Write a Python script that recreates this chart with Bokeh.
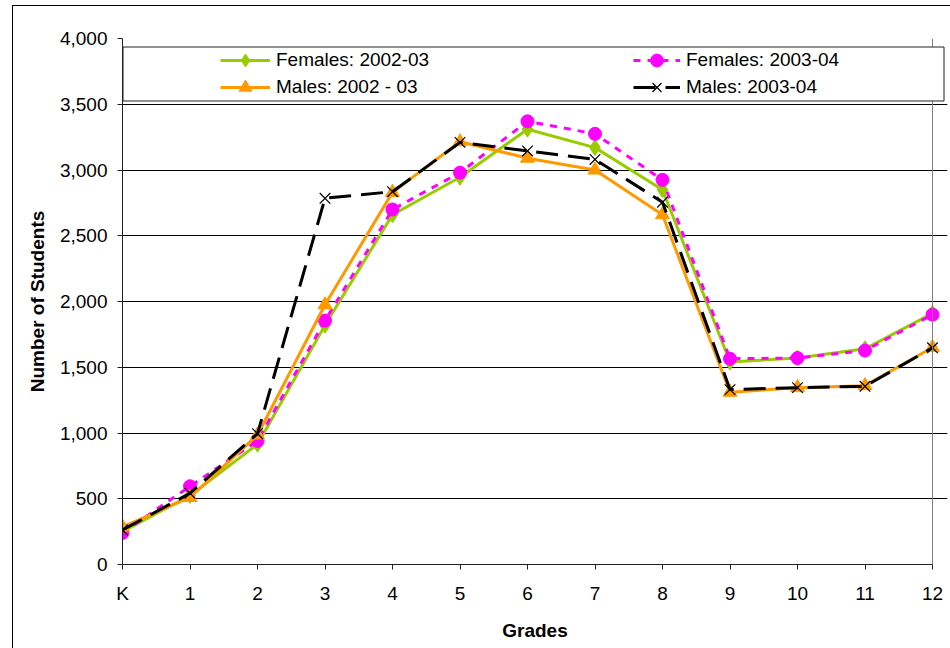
from bokeh.plotting import figure
from bokeh.models import (Legend, LegendItem, FixedTicker, Range1d, BoxAnnotation,
                          NumeralTickFormatter, Span, Grid)
from bokeh.embed import file_html
from bokeh.resources import INLINE

grades = ["K", "1", "2", "3", "4", "5", "6", "7", "8", "9", "10", "11", "12"]
females_0203 = [250, 525, 915, 1820, 2660, 2945, 3310, 3170, 2850, 1540, 1570, 1640, 1910]
females_0304 = [240, 595, 940, 1855, 2700, 2980, 3370, 3275, 2925, 1565, 1570, 1627, 1900]
males_0203 = [285, 510, 985, 1975, 2830, 3215, 3090, 3000, 2660, 1310, 1345, 1360, 1650]
males_0304 = [262, 542, 995, 2785, 2835, 3210, 3145, 3080, 2755, 1330, 1345, 1355, 1648]
y_ticks = [0, 500, 1000, 1500, 2000, 2500, 3000, 3500, 4000]

x = list(range(len(grades)))
x_last = len(grades) - 1
FONT = "Liberation Sans"

# frame is a little wider than the last category so that end markers are not clipped;
# the canvas runs just past the window so only its left and top edges show
p = figure(width=940, height=645, output_backend="svg", toolbar_location=None,
           x_range=Range1d(0, x_last * 825 / 810), y_range=Range1d(y_ticks[0], y_ticks[-1]),
           min_border_left=109, min_border_right=6, min_border_top=32, min_border_bottom=87)
p.styles = {"margin-left": "13px", "margin-top": "6px",
            "box-shadow": "-1px -1px 0 0 black"}
p.background_fill_color = "white"
p.border_fill_color = "white"
p.outline_line_color = None

# axes
p.xaxis.ticker = FixedTicker(ticks=x)
p.xaxis.major_label_overrides = {i: g for i, g in zip(x, grades)}
p.xaxis.bounds = (0, x_last)
p.yaxis.ticker = FixedTicker(ticks=y_ticks)
p.yaxis.formatter = NumeralTickFormatter(format="0,0")
for ax in (p.xaxis[0], p.yaxis[0]):
    ax.axis_line_color = "#202020"
    ax.axis_line_width = 1
    ax.major_tick_line_color = "#202020"
    ax.major_tick_in = 0
    ax.major_tick_out = 5
    ax.minor_tick_line_color = None
    ax.major_label_text_font = FONT
    ax.major_label_text_font_size = "19px"
    ax.major_label_text_color = "black"
    ax.axis_label_text_font = FONT
    ax.axis_label_text_font_size = "19px"
    ax.axis_label_text_font_style = "bold"
    ax.axis_label_text_color = "black"
p.xaxis.axis_label = "Grades"
p.yaxis.axis_label = "Number of Students"
p.xaxis.major_label_standoff = 13
p.xaxis.axis_label_standoff = 13
p.yaxis.major_label_standoff = 10
p.yaxis.axis_label_standoff = 9

p.xgrid.grid_line_color = None
p.ygrid.ticker = FixedTicker(ticks=y_ticks[:-1])
p.ygrid.bounds = (0, x_last)
p.ygrid.grid_line_color = "black"
p.ygrid.grid_line_width = 1
top_edge = Grid(dimension=1, ticker=FixedTicker(ticks=[y_ticks[-1]]), bounds=(0, x_last),
                grid_line_color="#808080", grid_line_width=1)
p.add_layout(top_edge)
p.add_layout(Span(location=x_last, dimension="height", line_color="#808080", line_width=1))

# series
g_line = p.line(x, females_0203, line_color="#99CC00", line_width=3)
g_mark = p.scatter(x, females_0203, marker="diamond", size=16, fill_color="#99CC00", line_color="#99CC00")
m_line = p.line(x, females_0304, line_color="#FF00FF", line_width=3, line_dash="7 7")
m_mark = p.scatter(x, females_0304, marker="circle", size=13, fill_color="#FF00FF", line_color="#FF00FF")
o_line = p.line(x, males_0203, line_color="#FF9900", line_width=3)
o_mark = p.scatter(x, males_0203, marker="triangle", size=14, fill_color="#FF9900", line_color="#FF9900")
b_line = p.line(x, males_0304, line_color="black", line_width=3, line_dash="22 10")
b_mark = p.scatter(x, males_0304, marker="x", size=15, line_color="black", line_width=1.2)

# legend frame (canvas pixels)
legend_box = BoxAnnotation(left=109.5, right=930.5, top=40.5, bottom=94.5,
                           left_units="canvas", right_units="canvas",
                           top_units="canvas", bottom_units="canvas",
                           fill_color="white", fill_alpha=1.0,
                           line_color="#202020", line_alpha=1.0, line_width=1,
                           level="annotation")
p.add_layout(legend_box)

def add_entry(label, renderers, loc, gw):
    lg = Legend(items=[LegendItem(label=label, renderers=renderers)], location=loc,
                glyph_width=gw, glyph_height=32, spacing=0, padding=0,
                label_standoff=6, label_text_font=FONT, label_text_font_size="19px",
                label_text_color="black", border_line_color=None,
                background_fill_alpha=0.0, margin=0, level="annotation")
    p.add_layout(lg)

add_entry("Females: 2002-03", [g_line, g_mark], (98, 488), 50)
add_entry("Males: 2002 - 03", [o_line, o_mark], (98, 461), 50)
add_entry("Females: 2003-04", [m_line, m_mark], (511, 488), 47)
add_entry("Males: 2003-04", [b_line, b_mark], (511, 461), 47)

open("out.html", "w").write(file_html(p, INLINE))
